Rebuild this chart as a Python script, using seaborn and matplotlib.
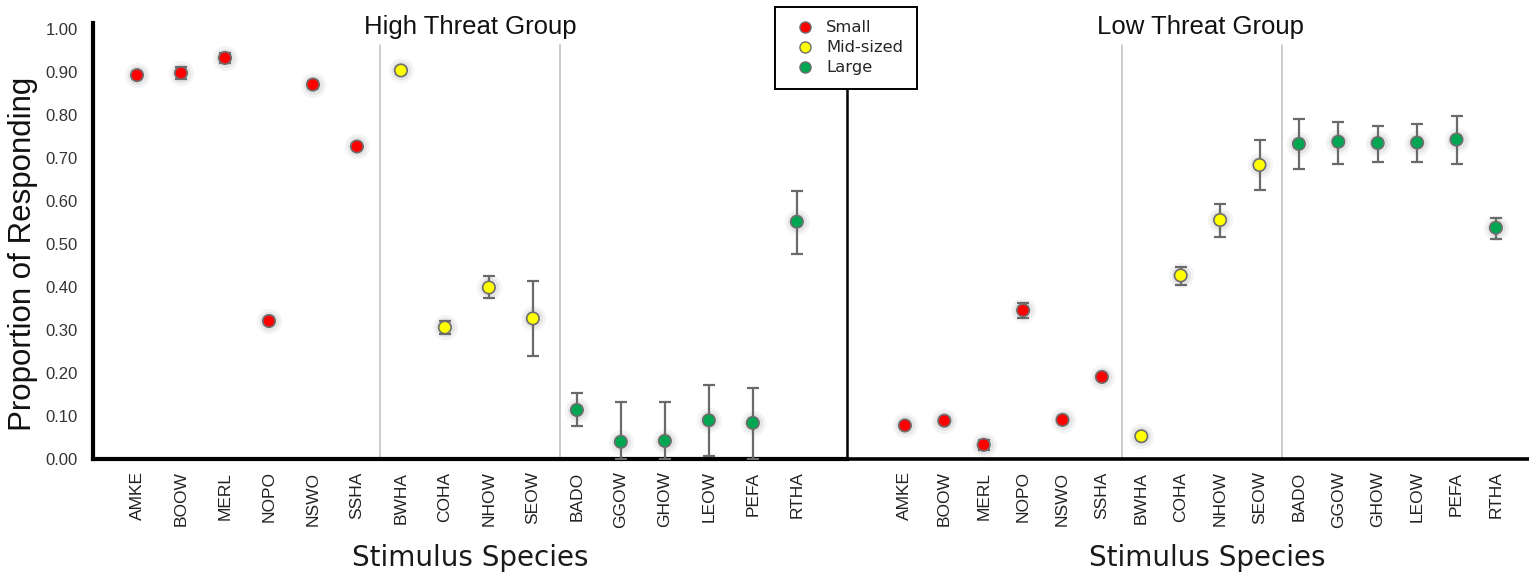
import numpy as np
import pandas as pd
import seaborn as sns
import matplotlib
matplotlib.use("Agg")
import matplotlib.pyplot as plt
from matplotlib.lines import Line2D

# ---------------- data ----------------
species = ["AMKE", "BOOW", "MERL", "NOPO", "NSWO", "SSHA", "BWHA", "COHA",
           "NHOW", "SEOW", "BADO", "GGOW", "GHOW", "LEOW", "PEFA", "RTHA"]
size_class = ["Small"] * 6 + ["Mid-sized"] * 4 + ["Large"] * 6
size_levels = ["Small", "Mid-sized", "Large"]

high_mean = [0.893, 0.898, 0.933, 0.321, 0.871, 0.727, 0.904, 0.306,
             0.399, 0.327, 0.114, 0.040, 0.042, 0.090, 0.084, 0.552]
high_lo = [0.886, 0.883, 0.922, 0.315, 0.863, 0.723, 0.895, 0.291,
           0.374, 0.239, 0.077, 0.000, 0.000, 0.007, 0.000, 0.477]
high_hi = [0.900, 0.913, 0.944, 0.327, 0.879, 0.731, 0.913, 0.321,
           0.425, 0.415, 0.153, 0.132, 0.132, 0.172, 0.165, 0.623]

low_mean = [0.078, 0.089, 0.033, 0.346, 0.091, 0.191, 0.053, 0.427,
            0.556, 0.684, 0.733, 0.738, 0.735, 0.736, 0.743, 0.538]
low_lo = [0.074, 0.085, 0.021, 0.327, 0.086, 0.187, 0.049, 0.404,
          0.516, 0.626, 0.674, 0.686, 0.692, 0.691, 0.687, 0.512]
low_hi = [0.082, 0.093, 0.045, 0.364, 0.096, 0.195, 0.057, 0.447,
          0.594, 0.741, 0.791, 0.784, 0.774, 0.780, 0.798, 0.561]

panel_titles = ["High Threat Group", "Low Threat Group"]
ytick_vals = [0.0, 0.1, 0.2, 0.3, 0.4, 0.5, 0.6, 0.7, 0.8, 0.9, 1.0]

palette = {"Small": "#ff0000", "Mid-sized": "#ffff00", "Large": "#00a651"}

# ---------------- figure ----------------
sns.set_theme(style="white")
plt.rcParams["font.family"] = ["Liberation Sans", "DejaVu Sans"]

fig = plt.figure(figsize=(15.29, 5.78), dpi=100)
ax1 = fig.add_axes([93 / 1529, 119 / 578, (847 - 93) / 1529, 436.3 / 578])
ax2 = fig.add_axes([847 / 1529, 119 / 578, (1529 - 847) / 1529, 436.3 / 578])

panels = [
    (ax1, high_mean, high_lo, high_hi, (-1.0, 16.14), (5.52, 9.62), 0.5, 0.5,
     panel_titles[0]),
    (ax2, low_mean, low_lo, low_hi, (-1.47, 15.84), (5.52, 9.57), 0.519, 0.528,
     panel_titles[1]),
]

for ax, mean, lo, hi, xlim, seps, tx, lx, title in panels:
    pos = np.arange(len(species))
    df = pd.DataFrame({"pos": pos, "mean": mean, "lo": lo, "hi": hi,
                       "size": size_class})
    for s in seps:
        ax.axvline(s, ymin=0, ymax=0.95, color="#c8c8c8", lw=1.3, zorder=1)
    # soft halo
    ax.scatter(df["pos"], df["mean"], s=330, color="#9a9a9a", alpha=0.10,
               linewidths=0, zorder=2)
    ax.scatter(df["pos"], df["mean"], s=190, color="#9a9a9a", alpha=0.16,
               linewidths=0, zorder=2)
    ax.errorbar(df["pos"], df["mean"],
                yerr=[df["mean"] - df["lo"], df["hi"] - df["mean"]],
                fmt="none", ecolor="#6a6a6a", elinewidth=1.6, capsize=4.5,
                capthick=1.6, zorder=3)
    sns.scatterplot(data=df, x="pos", y="mean", hue="size",
                    hue_order=size_levels, palette=palette, s=80,
                    edgecolor="#6e6e6e", linewidth=1.2, legend=False,
                    zorder=4, ax=ax)
    ax.set_xlim(*xlim)
    ax.set_ylim(0, 1.015)
    ax.set_xticks(pos)
    ax.set_xticklabels(species, rotation=90, fontsize=12.5, color="#222222")
    ax.tick_params(axis="x", length=0, pad=9)
    ax.set_ylabel("")
    ax.set_xlabel("Stimulus Species", fontsize=20, family="DejaVu Sans",
                  color="#1a1a1a")
    ax.xaxis.label.set_va("center")
    ax.xaxis.set_label_coords(lx, -0.227)
    ax.text(tx, 0.99, title, transform=ax.transAxes, ha="center",
            va="center", fontsize=18.5, color="#111111")
    for sp in ["top", "right"]:
        ax.spines[sp].set_visible(False)
    ax.spines["bottom"].set_color("black")
    ax.spines["left"].set_color("black")
    ax.set_facecolor("white")

ax1.spines["left"].set_linewidth(3)
ax1.spines["bottom"].set_linewidth(3)
ax2.spines["left"].set_linewidth(1.8)
ax2.spines["bottom"].set_linewidth(2.6)

ax1.set_yticks(ytick_vals)
ax1.set_yticklabels([f"{v:.2f}" for v in ytick_vals], fontsize=12,
                    color="#333333")
ax1.tick_params(axis="y", length=0, pad=11)
ax1.set_ylabel("Proportion of Responding", fontsize=22.5, color="#111111")
ax1.yaxis.label.set_va("center")
ax1.yaxis.set_label_coords(-0.093, 0.47)

ax2.set_yticks(ytick_vals)
ax2.set_yticklabels([])
ax2.tick_params(axis="y", length=0)

handles = [Line2D([0], [0], marker="o", linestyle="none", markersize=8,
                  markerfacecolor=palette[k], markeredgecolor="#6e6e6e",
                  markeredgewidth=1.0, label=k) for k in size_levels]
leg = fig.legend(handles=handles, loc="upper left",
                 bbox_to_anchor=(775 / 1529, 1 - 7 / 578), frameon=True,
                 fancybox=False, edgecolor="black", framealpha=1,
                 prop={"family": "DejaVu Sans", "size": 11.8},
                 handletextpad=0.3, labelspacing=0.3, borderpad=0.82,
                 borderaxespad=0, handlelength=2.0)
leg.get_frame().set_linewidth(1.4)

fig.savefig("out.png", dpi=100, facecolor="white")
